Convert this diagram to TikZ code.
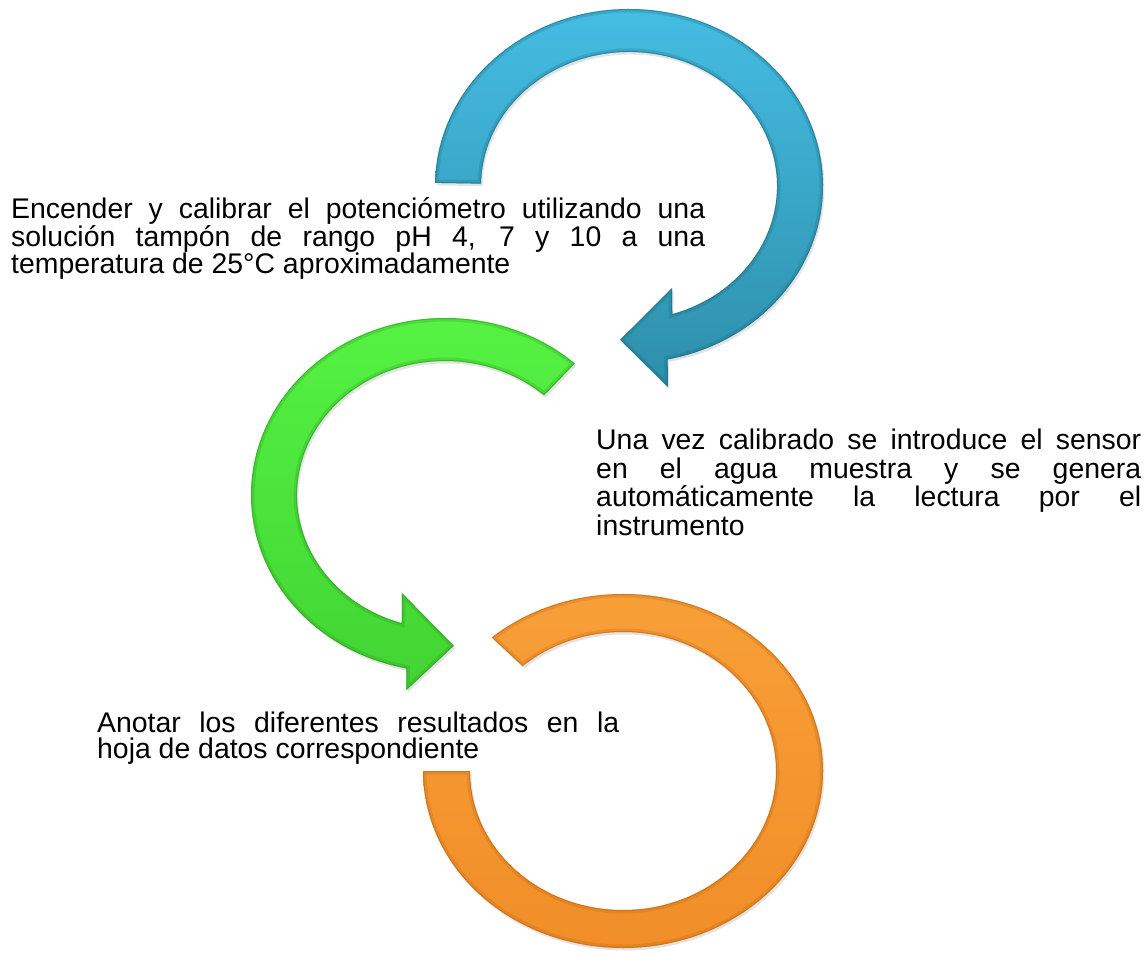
\documentclass[tikz,border=0pt]{standalone}
\usepackage{fontspec}
\setmainfont{Liberation Sans}
\usetikzlibrary{shadows}
\hbadness=10000
\tolerance=10000
\definecolor{bluetop}{HTML}{45BDE3}
\definecolor{bluebot}{HTML}{2D8FAA}
\definecolor{blueedge}{HTML}{1B6478}
\definecolor{greentop}{HTML}{56F444}
\definecolor{greenbot}{HTML}{42D433}
\definecolor{greenedge}{HTML}{2A8F1F}
\definecolor{orangetop}{HTML}{F9A039}
\definecolor{orangebot}{HTML}{F08D27}
\definecolor{orangeedge}{HTML}{B8600F}
\tikzset{
  arrowfill/.style={top color=#1top, bottom color=#1bot,
    drop shadow={shadow xshift=1.5pt, shadow yshift=-2.5pt, opacity=0.22}},
  bevelwide/.style={draw=#1edge, draw opacity=0.22, line width=7pt},
  bevelthin/.style={draw=#1edge, draw opacity=0.45, line width=2pt},
  txt/.style={inner sep=0pt, align=justify, anchor=base west},
}
\def\bluepath{(179:194 and 177)
  arc[start angle=179,end angle=-78.5,x radius=194,y radius=177]
  -- (-80:224 and 204) -- (-93:169 and 154) -- (-69:120 and 109.5) -- (-73:148 and 134)
  arc[start angle=-73,end angle=179,x radius=148,y radius=134] -- cycle}
\def\greenpath{(48:194 and 177)
  arc[start angle=48,end angle=258.5,x radius=194,y radius=177]
  -- (260:222 and 198) -- (273:169 and 151) -- (249:120 and 105) -- (253:148 and 134)
  arc[start angle=253,end angle=48,x radius=148,y radius=134] -- cycle}
\def\orangepath{(131:200 and 177)
  arc[start angle=131,end angle=-180,x radius=200,y radius=177]
  -- (180:153 and 139)
  arc[start angle=-180,end angle=131,x radius=153,y radius=139] -- cycle}
\begin{document}
\begin{tikzpicture}[x=1pt,y=1pt]
\useasboundingbox (0,0) rectangle (1147,953);
% blue arrow
\begin{scope}[shift={(629,767)}]
\path[arrowfill=blue] \bluepath;
\begin{scope}
\clip \bluepath;
\draw[bevelwide=blue] \bluepath;
\draw[bevelthin=blue] \bluepath;
\end{scope}
\end{scope}
% green arrow
\begin{scope}[shift={(445,458)}]
\path[arrowfill=green] \greenpath;
\begin{scope}
\clip \greenpath;
\draw[bevelwide=green] \greenpath;
\draw[bevelthin=green] \greenpath;
\end{scope}
\end{scope}
% orange arc
\begin{scope}[shift={(623,182)}]
\path[arrowfill=orange] \orangepath;
\begin{scope}
\clip \orangepath;
\draw[bevelwide=orange] \orangepath;
\draw[bevelthin=orange] \orangepath;
\end{scope}
\end{scope}
% texts
\node[txt, text width=694pt, font=\fontsize{28.4}{26.5}\selectfont] (t1) at (11,734)
  {Encender y calibrar el potenciómetro utilizando una\linebreak solución tampón de rango pH 4, 7 y 10 a una\linebreak temperatura de 25°C aproximadamente};
\node[txt, text width=545pt, font=\fontsize{28.4}{28.5}\selectfont] (t2) at (596,503)
  {Una vez calibrado se introduce el sensor\linebreak en el agua muestra y se genera\linebreak automáticamente la lectura por el\linebreak instrumento};
\node[txt, text width=522pt, font=\fontsize{28.4}{26}\selectfont] (t3) at (97,221)
  {Anotar los diferentes resultados en la\linebreak hoja de datos correspondiente};
\end{tikzpicture}
\end{document}
